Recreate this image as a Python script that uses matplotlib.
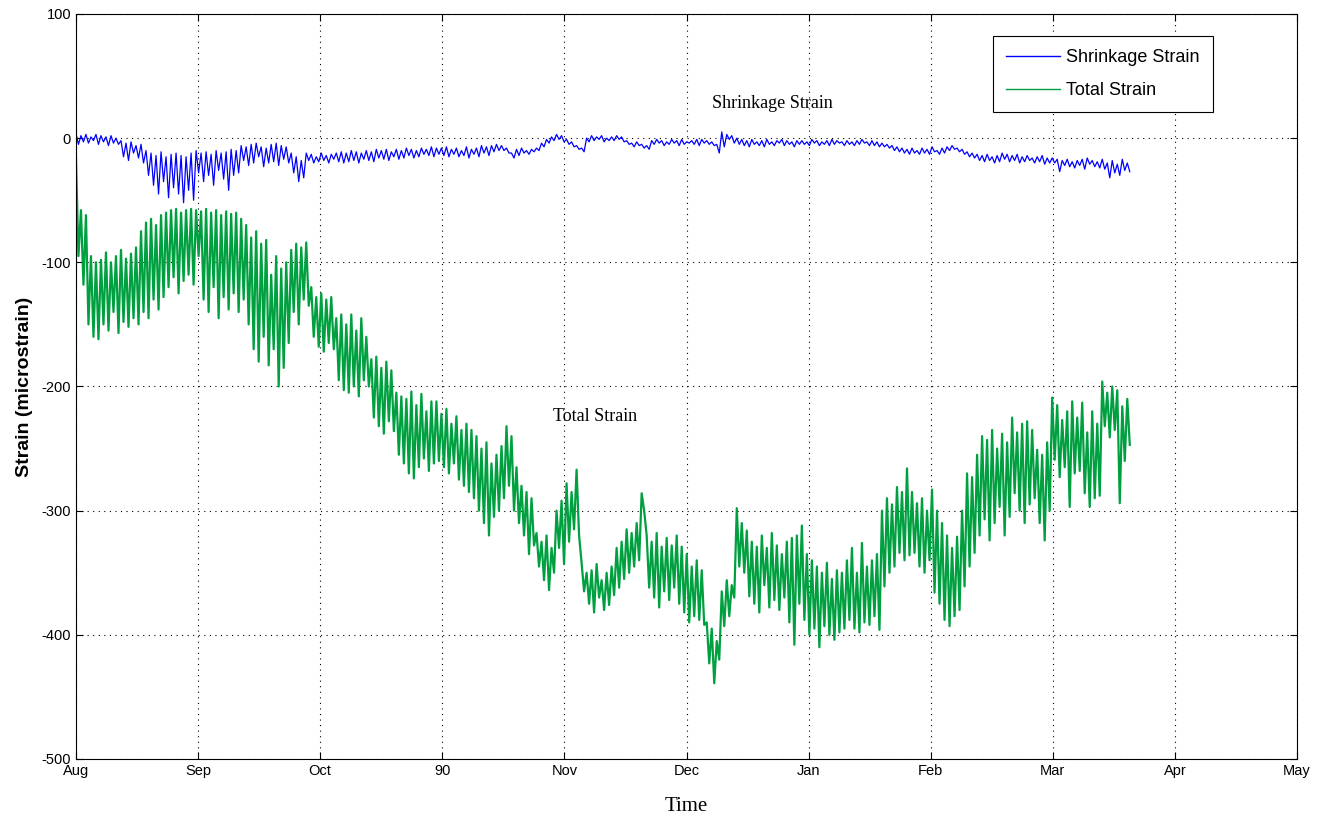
"""Shrinkage vs. total strain over the monitoring season (MATLAB-style figure)."""

import matplotlib

matplotlib.use("Agg")

import matplotlib.pyplot as plt
import numpy as np

# Month tick labels (equally spaced, one unit per month starting at Aug)
month_labels = ["Aug", "Sep", "Oct", "90", "Nov", "Dec", "Jan", "Feb", "Mar", "Apr", "May"]
data_end = 8.63  # last reading, in months after Aug

# Total strain: daily high / low readings (microstrain)
total_hi = [
    -15, -58, -62, -95, -100,
    -98, -92, -100, -95, -90, -97, -93, -88,
    -75, -68, -65, -70, -62,
    -60, -58, -57, -60, -58, -57,
    -58, -59, -57, -60, -58, -62, -59, -61, -60, -65,
    -70, -80, -75, -85, -82,
    -110, -95, -105, -100,
    -90, -85, -88, -84,
    -120, -128, -125, -130, -128,
    -145, -142, -150, -142, -155, -145, -160,
    -178, -176, -185, -180, -187,
    -205, -208, -210, -204, -215, -206, -220, -212,
    -212, -222, -218, -230, -224, -235, -230,
    -235, -240, -250, -245, -262, -255,
    -248, -232, -240,
    -265, -280, -285, -290,
    -318, -325, -320, -330,
    -300, -292, -278, -285, -267,
    -342, -350, -348, -343, -356, -350, -345,
    -330, -325, -315, -318, -310,
    -286,
    -320, -325, -318, -329, -322, -328, -320,
    -329, -335, -345, -340, -348,
    -390, -395, -405,
    -365, -356, -360,
    -298, -310,
    -316, -325, -329, -320, -330, -318, -328, -335, -325, -322, -320,
    -312, -335, -340, -345, -350, -342, -355, -348, -350,
    -340, -330, -350, -326, -345, -340, -335,
    -300, -290, -295, -281, -285, -266,
    -285, -294, -290, -300,
    -283, -300, -310, -320, -330,
    -321, -300, -270, -273, -255,
    -240, -243, -235, -250, -238, -245,
    -225, -237, -230, -228, -235,
    -251, -255, -245,
    -209, -215, -227, -220, -212, -225,
    -213, -237, -220, -230,
    -196, -205, -200,
    -203, -216, -210,
]
total_lo = [
    -95, -118, -150, -160, -162,
    -150, -155, -140, -157, -148, -152, -145, -150,
    -140, -145, -130, -138, -128,
    -120, -112, -125, -115, -110, -118,
    -95, -130, -140, -120, -145, -128, -138, -125, -140, -130,
    -150, -170, -180, -160, -183,
    -170, -200, -185, -165,
    -140, -150, -130, -135,
    -160, -168, -172, -165, -170,
    -195, -203, -205, -200, -208, -195, -200,
    -225, -232, -238, -228, -236,
    -255, -262, -270, -274, -265, -258, -268, -262,
    -260, -265, -270, -262, -275, -280, -285,
    -290, -300, -310, -320, -305, -300,
    -290, -280, -300,
    -310, -320, -335, -328,
    -345, -356, -364, -350,
    -330, -343, -325, -315, -320,
    -365, -375, -382, -370, -380, -376, -368,
    -362, -355, -350, -345, -340,
    -300,
    -362, -370, -378, -365, -372, -362, -375,
    -382, -390, -385, -388, -392,
    -423, -439, -420,
    -393, -385, -370,
    -345, -350,
    -369, -375, -382, -360, -378, -372, -380, -370, -390, -408, -375,
    -388, -400, -395, -410, -393, -400, -404, -398, -395,
    -388, -395, -398, -390, -392, -385, -396,
    -361, -350, -345, -334, -340, -336,
    -334, -345, -350, -340,
    -366, -375, -388, -393, -385,
    -380, -361, -345, -334, -320,
    -307, -324, -310, -297, -320, -305,
    -286, -300, -310, -295, -290,
    -310, -324, -300,
    -259, -273, -265, -297, -270, -268,
    -286, -297, -290, -288,
    -232, -241, -235,
    -294, -260, -247,
]

# Shrinkage strain: daily high / low readings (microstrain)
shrink_hi = [
    4, 2, 3, 1, 3, 2, 1, 2, 0,
    -2, -4, -3, -6, -5,
    -10, -12, -14, -11, -15, -13, -12, -14, -15, -12,
    -10, -12, -11, -13, -10, -12, -11, -9, -10,
    -6, -7, -5, -4, -7, -8, -5, -4, -6, -7,
    -12, -15, -18,
    -12, -13, -15, -12, -14, -13, -12,
    -11, -12, -10, -11, -12, -10, -11, -9, -10, -9,
    -11, -9, -10, -8, -9, -10, -8, -9, -7, -8,
    -8, -7, -9, -8, -10, -7, -9, -8, -6, -7, -6, -5,
    -6, -8, -12, -9, -8, -10, -9, -8,
    -4, -1, 1, 3, 2,
    -1, -3, -6, -8,
    0, 2, 1, 2, 0, 1, 2, 1,
    -2, -4, -3, -5, -6,
    -2, -1, -2, -3, -1, -2, -1, -3, -2, -1,
    -1, -2, -3, -5,
    5, 3,
    2, 0, -1, -2, -1, -3, -2, -1, -3, -2, -1, -2, -3, -2,
    -2, -3, -1, -2, -3, -2, -1, -2, -3, -2, -3, -2, -1, -3, -2, -3,
    -4, -5, -6, -7, -8, -9, -8, -10,
    -8, -9, -7, -10, -8, -7, -6,
    -8, -9, -11, -12, -13, -14, -13, -15, -14,
    -12, -13, -14, -13, -15, -14, -16, -15, -14, -16,
    -16, -17, -18, -17, -19, -18, -17, -16, -18, -19,
    -17, -20, -18, -21, -17, -20,
]
shrink_lo = [
    -5, -3, -4, -2, -5, -3, -6, -4, -5,
    -15, -18, -12, -16, -20,
    -30, -38, -45, -35, -48, -40, -45, -52, -42, -50,
    -28, -35, -30, -38, -26, -33, -42, -30, -28,
    -18, -22, -20, -15, -23, -20, -19, -22, -17, -20,
    -28, -35, -32,
    -18, -20, -19, -18, -20, -17, -19,
    -20, -19, -18, -20, -17, -18, -19, -16, -17, -18,
    -15, -17, -16, -14, -16, -15, -13, -14, -15, -13,
    -14, -15, -13, -15, -14, -16, -13, -15, -12, -14, -11, -10,
    -10, -12, -16, -14, -12, -13, -11, -10,
    -7, -4, -2, -1, -3,
    -5, -7, -9, -11,
    -3, -2, -1, -3, -2, -2, -1, -3,
    -5, -7, -6, -8, -9,
    -5, -4, -6, -5, -4, -6, -5, -4, -5, -6,
    -4, -5, -6, -12,
    -7, -1,
    -4, -5, -6, -7, -5, -6, -7, -5, -6, -4, -6, -5, -7, -5,
    -5, -6, -4, -6, -5, -6, -5, -4, -6, -5, -6, -5, -4, -6, -6, -7,
    -7, -8, -10, -11, -12, -13, -12, -13,
    -12, -13, -11, -13, -12, -10, -9,
    -11, -13, -15, -16, -18, -19, -18, -20, -19,
    -17, -19, -18, -20, -19, -18, -20, -19, -21, -20,
    -20, -27, -22, -23, -24, -22, -25, -21, -23, -24,
    -25, -32, -28, -30, -26, -27,
]


def _zigzag(hi, lo):
    """Interleave daily highs and lows into one reading sequence."""
    return np.column_stack([hi, lo]).ravel()


total = _zigzag(total_hi, total_lo)
shrink = _zigzag(shrink_hi, shrink_lo)
t_total = np.linspace(0, data_end, len(total))
t_shrink = np.linspace(0, data_end, len(shrink))

plt.rcParams.update(
    {
        "font.family": ["Liberation Sans", "DejaVu Sans"],
        "axes.unicode_minus": False,  # MATLAB prints a plain hyphen
    }
)

fig = plt.figure(figsize=(13.23, 8.17), dpi=100)
ax = fig.add_axes([0.0574, 0.0710, 0.9230, 0.9119])

ax.plot(t_shrink, shrink, color="#0000ff", lw=0.9, label="Shrinkage Strain")
ax.plot(t_total, total, color="#00a040", lw=1.6, label="Total Strain")

ax.set_xlim(0, 10)
ax.set_ylim(-500, 100)
ax.set_xticks(range(len(month_labels)))
ax.set_xticklabels(month_labels)
ax.set_yticks(range(-500, 101, 100))

ax.grid(True, linestyle=(0, (1, 4)), color="black", lw=0.8)
ax.tick_params(direction="in", top=True, right=True, labelsize=10.5, length=5)
for sp in ax.spines.values():
    sp.set_linewidth(0.8)

ax.text(5.70, 28, "Shrinkage Strain", family="Liberation Serif", fontsize=13,
        ha="center", va="center")
ax.text(4.25, -224, "Total Strain", family="Liberation Serif", fontsize=13,
        ha="center", va="center")

ax.set_xlabel("Time", family="Liberation Serif", fontsize=15, labelpad=14)
ax.set_ylabel("Strain (microstrain)", fontsize=14, fontweight="bold", labelpad=6)

leg = ax.legend(loc="upper right", bbox_to_anchor=(0.931, 0.9705), fontsize=13,
                fancybox=False, framealpha=1, edgecolor="black",
                handlelength=3.0, borderpad=0.75, labelspacing=0.85,
                handletextpad=0.3, borderaxespad=0)
leg.get_frame().set_linewidth(0.8)
for handle in leg.get_lines():
    handle.set_linewidth(1.0)

fig.savefig("out.png", dpi=100)
